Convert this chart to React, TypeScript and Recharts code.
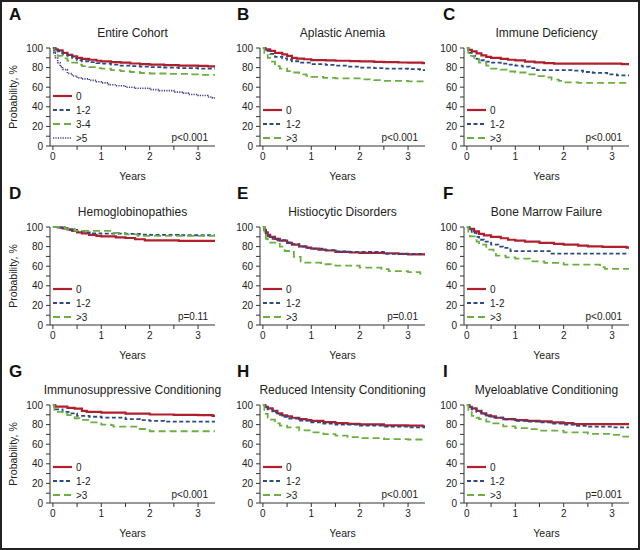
import React from "react";
import { LineChart, Line, XAxis, YAxis, Legend } from "recharts";

// Kaplan-Meier steps: [years, probability %]
const cohort0 = [[0,100],[0.05,98.5],[0.1,97.5],[0.2,95],[0.3,93],[0.4,91.5],[0.5,90],[0.6,89],[0.75,88],[0.9,87],[1.0,86.3],[1.2,85.5],[1.4,85],[1.6,84.2],[1.8,83.5],[2.0,83],[2.3,82.5],[2.6,82],[3.0,81.8],[3.2,81.3],[3.35,81.3]];
const cohort12 = [[0,100],[0.05,98],[0.1,96.5],[0.2,94],[0.3,92],[0.4,89.5],[0.5,87.5],[0.6,86.5],[0.75,85.5],[0.9,84.5],[1.0,84],[1.2,83],[1.4,82],[1.6,81.5],[1.8,81],[2.0,80.5],[2.3,80],[2.6,79.5],[3.0,79],[3.35,79]];
const cohort34 = [[0,100],[0.03,96],[0.1,92],[0.2,89.5],[0.3,87],[0.4,85],[0.5,83],[0.6,81.5],[0.75,80.5],[0.9,79.5],[1.0,79],[1.2,77.5],[1.4,76.5],[1.6,75.5],[1.8,74.5],[2.0,74],[2.4,73.5],[2.8,73],[3.0,72.6],[3.35,72.6]];
const cohort5 = [[0,100],[0.02,95],[0.05,90],[0.1,85],[0.15,81],[0.2,78],[0.3,74],[0.4,71.5],[0.5,69.5],[0.6,68.5],[0.75,67],[0.9,65.5],[1.0,64.4],[1.15,62.5],[1.3,61.5],[1.5,60],[1.7,59],[2.0,57.5],[2.2,56.5],[2.5,55],[2.7,54],[2.8,52.5],[3.0,51.5],[3.2,50],[3.3,49],[3.35,49]];

const aplastic0 = [[0,100],[0.05,98.5],[0.15,97],[0.25,95],[0.4,93.5],[0.5,92],[0.6,90],[0.7,89.2],[0.85,88.5],[1.0,87.7],[1.3,87.3],[1.5,87],[1.8,86.6],[2.0,86.3],[2.3,85.8],[2.5,85.6],[2.8,85.2],[3.0,85],[3.3,84.6],[3.35,84.6]];
const aplastic12 = [[0,100],[0.05,97],[0.15,94],[0.25,91],[0.4,89.5],[0.5,88],[0.6,86.5],[0.75,85],[1.0,83.5],[1.3,82.7],[1.5,82],[1.75,81],[2.0,80],[2.3,79.5],[2.5,79],[3.0,78.4],[3.25,77.5],[3.35,77.5]];
const aplastic3 = [[0,100],[0.03,95],[0.1,90],[0.15,86],[0.25,81.5],[0.35,79],[0.5,76.4],[0.6,75],[0.75,73],[0.9,71.5],[1.0,70.5],[1.25,69.6],[1.5,69],[2.0,68],[2.3,67.2],[2.5,66.4],[3.0,66],[3.35,66]];

const immune0 = [[0,100],[0.03,98],[0.1,96.5],[0.2,94.5],[0.3,92.5],[0.4,91],[0.5,90],[0.7,89],[0.85,88],[1.0,87.3],[1.2,86],[1.4,85.3],[1.6,84.6],[1.8,84],[3.1,84],[3.2,83.5],[3.35,83.5]];
const immune12 = [[0,100],[0.03,95],[0.1,92],[0.2,89],[0.3,87.5],[0.4,86],[0.5,85],[0.7,84],[0.85,83],[1.0,82],[1.15,81],[1.3,79.5],[1.45,77.4],[2.2,77],[2.4,75.5],[2.6,74.7],[2.9,73],[3.1,72],[3.35,72]];
const immune3 = [[0,100],[0.03,92],[0.15,89],[0.25,85],[0.4,82],[0.5,79],[0.7,78],[0.85,76],[1.0,75],[1.25,73],[1.4,71.2],[1.6,70],[1.75,67.8],[1.9,66.5],[2.0,65],[2.3,64.5],[3.35,64.5]];

const hemo0 = [[0,100],[0.1,99.5],[0.2,98.5],[0.3,97.5],[0.4,96],[0.5,94.5],[0.6,93.5],[0.75,92],[0.9,91],[1.0,90.5],[1.3,89.5],[1.5,88.8],[1.7,87.5],[1.9,86.4],[2.5,86.4],[2.6,85.8],[3.35,85.8]];
const hemo12 = [[0,100],[0.1,99.5],[0.2,98.5],[0.35,97],[0.5,95.6],[0.65,94.5],[0.8,93.5],[1.0,93.2],[1.5,93],[1.8,92.3],[2.0,92],[2.6,91.6],[3.35,91.6]];
const hemo3 = [[0,100],[0.25,98],[0.45,96],[1.25,94],[1.5,92.5],[1.75,91],[3.35,91]];

const histio0 = [[0,100],[0.03,97],[0.06,94.5],[0.1,92],[0.15,90],[0.25,87.8],[0.35,86],[0.5,83.7],[0.6,82],[0.75,80.3],[0.9,79],[1.0,78],[1.15,77],[1.3,76],[1.5,74.6],[1.8,74],[2.0,73.6],[2.5,73.2],[2.8,72.5],[3.0,72],[3.35,71.5]];
const histio12 = [[0,100],[0.03,96],[0.06,93],[0.1,90.5],[0.2,88],[0.3,86.5],[0.5,84.4],[0.6,82.5],[0.75,80],[0.9,78.8],[1.0,78],[1.25,76.5],[1.5,75],[1.7,74.6],[2.4,74.6],[2.5,72.5],[3.35,72]];
const histio3 = [[0,100],[0.03,93],[0.06,88],[0.1,84],[0.35,80],[0.45,75.5],[0.64,69.5],[0.78,63.7],[1.2,62],[1.5,60.5],[2.0,58.6],[2.45,57],[2.6,55],[3.0,54],[3.25,52.5],[3.35,52.5]];

const marrow0 = [[0,100],[0.05,98],[0.15,95.5],[0.25,93],[0.35,91.5],[0.5,90],[0.7,88.5],[0.85,87],[1.0,86],[1.2,85],[1.5,83.7],[1.8,82.8],[2.0,82],[2.3,81],[2.5,80.3],[2.8,79.8],[3.0,79.7],[3.3,79],[3.35,79]];
const marrow12 = [[0,100],[0.05,97],[0.1,94],[0.2,90],[0.25,87],[0.35,85],[0.5,82],[0.65,80],[0.75,78.6],[0.9,75.3],[1.75,72.9],[3.35,72.9]];
const marrow3 = [[0,100],[0.03,94],[0.06,90.5],[0.2,85],[0.25,82],[0.4,77],[0.55,74],[0.6,70.8],[0.8,69],[1.0,67.8],[1.3,65],[1.6,63.4],[2.0,61.7],[2.75,59],[2.85,57.3],[3.35,57.3]];

const immuno0 = [[0,100],[0.05,98.3],[0.3,97],[0.45,96.3],[0.6,94],[0.7,93],[1.0,92.3],[1.5,91.3],[2.0,90.3],[2.5,90],[3.0,89.6],[3.3,89],[3.35,89]];
const immuno12 = [[0,100],[0.03,97],[0.06,95.6],[0.2,93],[0.35,91.5],[0.5,89],[0.75,88],[1.0,87.2],[1.5,85.6],[1.8,84.5],[2.0,83.9],[2.3,83],[3.35,83]];
const immuno3 = [[0,100],[0.03,95],[0.06,93],[0.2,91],[0.3,89.6],[0.45,86.5],[0.55,84.9],[0.75,82.2],[1.0,79.9],[1.2,79.5],[1.25,77.9],[1.75,75.5],[2.0,73.2],[3.35,73.2]];

const reduced0 = [[0,100],[0.05,98],[0.1,96.5],[0.2,94],[0.3,91.5],[0.4,89.5],[0.5,88.3],[0.6,87],[0.75,85.6],[0.9,84.5],[1.0,83.9],[1.25,82.5],[1.5,81.5],[1.75,80.8],[2.0,80.2],[2.5,79.2],[3.0,78.9],[3.3,78.2],[3.35,78.2]];
const reduced12 = [[0,100],[0.05,97.5],[0.1,95.5],[0.2,92.5],[0.3,90],[0.4,88],[0.5,86.2],[0.75,84],[1.0,82.2],[1.25,81],[1.5,80],[2.0,78.9],[2.5,78],[3.0,77.2],[3.35,77.2]];
const reduced3 = [[0,100],[0.03,95],[0.06,91],[0.1,87.2],[0.15,85],[0.25,81.2],[0.35,79],[0.5,77.2],[0.75,74.2],[1.0,72.1],[1.25,70.2],[1.5,68.8],[1.75,67.2],[2.0,66.1],[2.5,65.1],[3.0,64.8],[3.3,64.1],[3.35,64.1]];

const myelo0 = [[0,100],[0.05,98],[0.1,96.5],[0.2,94],[0.3,91.5],[0.4,89.5],[0.5,88.3],[0.6,87],[0.75,85.6],[1.0,84.6],[1.25,83.8],[1.5,83.2],[1.75,82.2],[2.0,81.5],[2.2,80.5],[3.35,80.5]];
const myelo12 = [[0,100],[0.05,97.5],[0.1,95.5],[0.2,93],[0.3,90.5],[0.4,88.5],[0.5,87.2],[0.75,85.3],[1.0,83.9],[1.25,83],[1.5,82.2],[1.75,81],[2.0,79.9],[2.25,78.8],[2.5,77.9],[3.0,77.2],[3.35,76.5]];
const myelo3 = [[0,100],[0.03,95],[0.1,89],[0.2,87],[0.25,85.6],[0.4,83],[0.5,81.2],[0.75,78.2],[1.0,76.5],[1.25,75.3],[1.5,73.8],[2.0,72.1],[2.5,70.5],[3.0,69.5],[3.2,67.8],[3.35,67.8]];

const xTicks = [0, 0.5, 1, 1.5, 2, 2.5, 3];
const yTicks = [0, 10, 20, 30, 40, 50, 60, 70, 80, 90, 100];

const FONT = "'Liberation Sans', Arial, sans-serif";

const styles = {
  red: { stroke: "#b01f2e", dash: undefined, width: 2.2 },
  blue: { stroke: "#2e4a84", dash: "4 2.5", width: 1.8 },
  green: { stroke: "#6dae43", dash: "7 4", width: 1.8 },
  purple: { stroke: "#4a3c8c", dash: "1.2 1.2", width: 1.6 },
};

const panels = [
  { letter: "A", title: "Entire Cohort", p: "p<0.001", series: [
    { name: "0", pts: cohort0, st: styles.red },
    { name: "1-2", pts: cohort12, st: styles.blue },
    { name: "3-4", pts: cohort34, st: styles.green },
    { name: ">5", pts: cohort5, st: styles.purple },
  ] },
  { letter: "B", title: "Aplastic Anemia", p: "p<0.001", series: [
    { name: "0", pts: aplastic0, st: styles.red },
    { name: "1-2", pts: aplastic12, st: styles.blue },
    { name: ">3", pts: aplastic3, st: styles.green },
  ] },
  { letter: "C", title: "Immune Deficiency", p: "p<0.001", series: [
    { name: "0", pts: immune0, st: styles.red },
    { name: "1-2", pts: immune12, st: styles.blue },
    { name: ">3", pts: immune3, st: styles.green },
  ] },
  { letter: "D", title: "Hemoglobinopathies", p: "p=0.11", series: [
    { name: "0", pts: hemo0, st: styles.red },
    { name: "1-2", pts: hemo12, st: styles.blue },
    { name: ">3", pts: hemo3, st: styles.green },
  ] },
  { letter: "E", title: "Histiocytic Disorders", p: "p=0.01", series: [
    { name: "0", pts: histio0, st: styles.red },
    { name: "1-2", pts: histio12, st: styles.blue },
    { name: ">3", pts: histio3, st: styles.green },
  ] },
  { letter: "F", title: "Bone Marrow Failure", p: "p<0.001", series: [
    { name: "0", pts: marrow0, st: styles.red },
    { name: "1-2", pts: marrow12, st: styles.blue },
    { name: ">3", pts: marrow3, st: styles.green },
  ] },
  { letter: "G", title: "Immunosuppressive Conditioning", p: "p<0.001", series: [
    { name: "0", pts: immuno0, st: styles.red },
    { name: "1-2", pts: immuno12, st: styles.blue },
    { name: ">3", pts: immuno3, st: styles.green },
  ] },
  { letter: "H", title: "Reduced Intensity Conditioning", p: "p<0.001", series: [
    { name: "0", pts: reduced0, st: styles.red },
    { name: "1-2", pts: reduced12, st: styles.blue },
    { name: ">3", pts: reduced3, st: styles.green },
  ] },
  { letter: "I", title: "Myeloablative Conditioning", p: "p=0.001", series: [
    { name: "0", pts: myelo0, st: styles.red },
    { name: "1-2", pts: myelo12, st: styles.blue },
    { name: ">3", pts: myelo3, st: styles.green },
  ] },
];

const colX = [0, 210, 414];
const rowY = [0, 179, 357];
const letterX = [9, 27, 29];

const KmLegend = ({ series }) => (
  <svg width={70} height={series.length * 14} style={{ display: "block" }}>
    {series.map((s, i) => (
      <g key={s.name}>
        <line x1={0} x2={19} y1={i * 14 + 7} y2={i * 14 + 7} stroke={s.st.stroke}
          strokeWidth={s.st.width} strokeDasharray={s.st.dash} />
        <text x={23} y={i * 14 + 7} dy="0.35em" fontSize={10} fill="#222" fontFamily={FONT}>{s.name}</text>
      </g>
    ))}
  </svg>
);

function Panel({ cfg, col, row }) {
  const n = cfg.series.length;
  return (
    <div style={{ position: "absolute", left: colX[col], top: rowY[row], width: 226, height: 186 }}>
      <div style={{ position: "absolute", left: letterX[col], top: 5, fontSize: 17, fontWeight: "bold", fontFamily: FONT, color: "#111" }}>
        {cfg.letter}
      </div>
      <div style={{ position: "absolute", left: 50, width: 165, top: 26, whiteSpace: "nowrap", fontSize: 12, fontFamily: FONT, color: "#222", display: "flex", justifyContent: "center" }}>
        <span>{cfg.title}</span>
      </div>
      <LineChart width={226} height={186} margin={{ top: 48, right: 11, left: 0, bottom: 6 }}>
        <XAxis type="number" dataKey="t" domain={[-0.06, 3.35]} allowDataOverflow ticks={xTicks}
          tickFormatter={(v) => (Number.isInteger(v) ? String(v) : "")}
          height={34} tickSize={4} tickMargin={3} stroke="#333"
          tick={{ fontSize: 10, fill: "#222", fontFamily: FONT }}
          label={{ value: "Years", position: "insideBottom", offset: 0, style: { fontSize: 10.5, fill: "#222", fontFamily: FONT } }} />
        <YAxis type="number" domain={[0, 100]} ticks={yTicks} width={50} interval={0}
          tickFormatter={(v) => (v % 20 === 0 ? String(v) : "")}
          tickSize={4} tickMargin={3} stroke="#333"
          tick={{ fontSize: 10, fill: "#222", fontFamily: FONT }}
          label={col === 0 ? { value: "Probability, %", angle: -90, position: "insideLeft", offset: 13, style: { textAnchor: "middle", fontSize: 10.5, fill: "#222", fontFamily: FONT } } : undefined} />
        {cfg.series.map((s) => (
          <Line key={s.name} name={s.name} data={s.pts.map(([t, v]) => ({ t, v }))} dataKey="v"
            type="stepAfter" stroke={s.st.stroke} strokeWidth={s.st.width} strokeDasharray={s.st.dash}
            dot={false} activeDot={false} isAnimationActive={false} />
        ))}
        <Legend layout="vertical" align="center" verticalAlign="middle"
          wrapperStyle={{ left: 53, top: 145 - 14 * n, width: 70, height: 14 * n }}
          content={() => <KmLegend series={cfg.series} />} />
      </LineChart>
      <div style={{ position: "absolute", right: 226 - 208, top: 132, fontSize: 10, fontFamily: FONT, color: "#222" }}>
        {cfg.p}
      </div>
    </div>
  );
}

export default function App() {
  return (
    <div style={{ position: "absolute", left: 0, top: 0, width: 640, height: 550, boxSizing: "border-box", border: "2px solid #222", background: "#fff", overflow: "hidden" }}>
      <div style={{ position: "absolute", left: -2, top: -2 }}>
        {panels.map((cfg, i) => (
          <Panel key={cfg.letter} cfg={cfg} col={i % 3} row={Math.floor(i / 3)} />
        ))}
      </div>
    </div>
  );
}
